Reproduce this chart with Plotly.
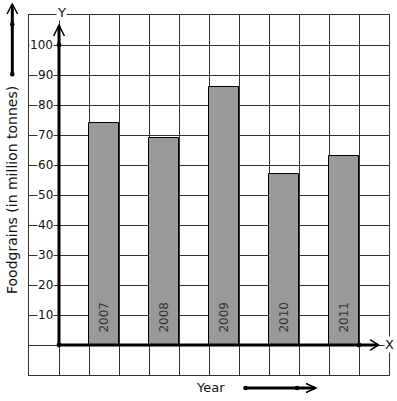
import plotly.graph_objects as go

years = ["2007", "2008", "2009", "2010", "2011"]
values = [74, 69, 86, 57, 63]
bar_x = [1.5, 3.5, 5.5, 7.5, 9.5]
y_ticks = [10, 20, 30, 40, 50, 60, 70, 80, 90, 100]
y_tick_labels = ["10", "20", "30", "40", "50", "60", "70", "80", "90", "100"]

W, H = 397, 401
L, R, T, B = 29, 8, 15, 26
FONT = "DejaVu Sans"

def px(x):
    return (x - L) / (W - L - R)

def py(y):
    return (H - B - y) / (H - T - B)

fig = go.Figure()
fig.add_trace(go.Bar(
    x=bar_x, y=values, width=1.0,
    marker=dict(color="#999999", line=dict(color="#000000", width=1)),
    hoverinfo="skip", showlegend=False,
))

shapes = []
annotations = []

# axes lines
shapes.append(dict(type="line", xref="x", yref="y", x0=0, y0=0, x1=0, y1=106.3,
                   line=dict(color="black", width=3), layer="above"))
shapes.append(dict(type="line", xref="x", yref="y", x0=0, y0=0, x1=10.63, y1=0,
                   line=dict(color="black", width=3), layer="above"))
# chevrons
shapes.append(dict(type="path", xref="x", yref="y",
                   path="M -0.18 103.0 L 0 106.6 L 0.18 103.0",
                   line=dict(color="black", width=1.5), layer="above"))
shapes.append(dict(type="path", xref="x", yref="y",
                   path="M 10.37 1.8 L 10.65 0 L 10.37 -1.8",
                   line=dict(color="black", width=1.5), layer="above"))
# dots on axes
for (cx, cy) in [(0, 0), (0, 100), (10, 0)]:
    shapes.append(dict(type="circle", xref="x", yref="y",
                       x0=cx - 0.08, x1=cx + 0.08, y0=cy - 0.8, y1=cy + 0.8,
                       fillcolor="black", line=dict(color="black", width=0), layer="above"))

# left decorative arrow
shapes.append(dict(type="line", xref="paper", yref="paper", x0=px(12.3), y0=py(74), x1=px(12.3), y1=py(5),
                   line=dict(color="black", width=3)))
shapes.append(dict(type="path", xref="paper", yref="paper",
                   path=f"M {px(7)} {py(14)} L {px(12.3)} {py(4)} L {px(17.6)} {py(14)}",
                   line=dict(color="black", width=1.5)))
for cyp in [24.3, 74.3]:
    shapes.append(dict(type="circle", xref="paper", yref="paper",
                       x0=px(10), x1=px(14.6), y0=py(cyp + 2.3), y1=py(cyp - 2.3),
                       fillcolor="black", line=dict(width=0)))

# bottom decorative arrow
shapes.append(dict(type="line", xref="paper", yref="paper", x0=px(245), y0=py(388), x1=px(315), y1=py(388),
                   line=dict(color="black", width=3)))
shapes.append(dict(type="path", xref="paper", yref="paper",
                   path=f"M {px(306)} {py(383.5)} L {px(316)} {py(388)} L {px(306)} {py(392.5)}",
                   line=dict(color="black", width=1.5)))
for cxp in [245.5, 297]:
    shapes.append(dict(type="circle", xref="paper", yref="paper",
                       x0=px(cxp - 2.3), x1=px(cxp + 2.3), y0=py(390.3), y1=py(385.7),
                       fillcolor="black", line=dict(width=0)))

# tick labels with white background
for v, lab in zip(y_ticks, y_tick_labels):
    annotations.append(dict(x=-0.17, y=v, xref="x", yref="y", text=lab, showarrow=False,
                            xanchor="right", yanchor="middle", bgcolor="white", borderpad=0,
                            font=dict(family=FONT, size=12, color="#111")))

# year labels inside bars
for x, yr in zip(bar_x, years):
    annotations.append(dict(x=x, y=3.3, xref="x", yref="y", text=yr, showarrow=False,
                            textangle=-90, xanchor="center", yanchor="bottom",
                            font=dict(family=FONT, size=12, color="#333")))

# axis letters
annotations.append(dict(x=px(61), y=py(12), xref="paper", yref="paper", text="Y", showarrow=False,
                        xanchor="center", yanchor="middle", bgcolor="white", borderpad=0,
                        font=dict(family=FONT, size=13, color="#111")))
annotations.append(dict(x=px(389), y=py(344), xref="paper", yref="paper", text="X", showarrow=False,
                        xanchor="center", yanchor="middle", bgcolor="white", borderpad=0,
                        font=dict(family=FONT, size=13, color="#111")))
# titles
annotations.append(dict(x=px(12), y=py(190), xref="paper", yref="paper", text="Foodgrains (in million tonnes)",
                        showarrow=False, textangle=-90, xanchor="center", yanchor="middle",
                        font=dict(family=FONT, size=14, color="#111")))
annotations.append(dict(x=px(210), y=py(387), xref="paper", yref="paper", text="Year",
                        showarrow=False, xanchor="center", yanchor="middle",
                        font=dict(family=FONT, size=13, color="#111")))

fig.update_layout(
    width=W, height=H,
    margin=dict(l=L, r=R, t=T, b=B),
    paper_bgcolor="white", plot_bgcolor="white",
    bargap=0,
    shapes=shapes, annotations=annotations,
    font=dict(family=FONT),
    xaxis=dict(range=[-1, 11], dtick=1, tick0=0, showticklabels=False, ticks="",
               showgrid=True, gridcolor="#333", gridwidth=1, zeroline=False,
               showline=True, linecolor="#333", linewidth=1, mirror=True, fixedrange=True),
    yaxis=dict(range=[-10, 110], dtick=10, tick0=0, showticklabels=False, ticks="",
               showgrid=True, gridcolor="#333", gridwidth=1, zeroline=False,
               showline=True, linecolor="#333", linewidth=1, mirror=True, fixedrange=True),
)

fig.write_html("out.html", config={"displayModeBar": False},
               post_script="document.body.style.margin='0';document.body.style.overflow='hidden';")
